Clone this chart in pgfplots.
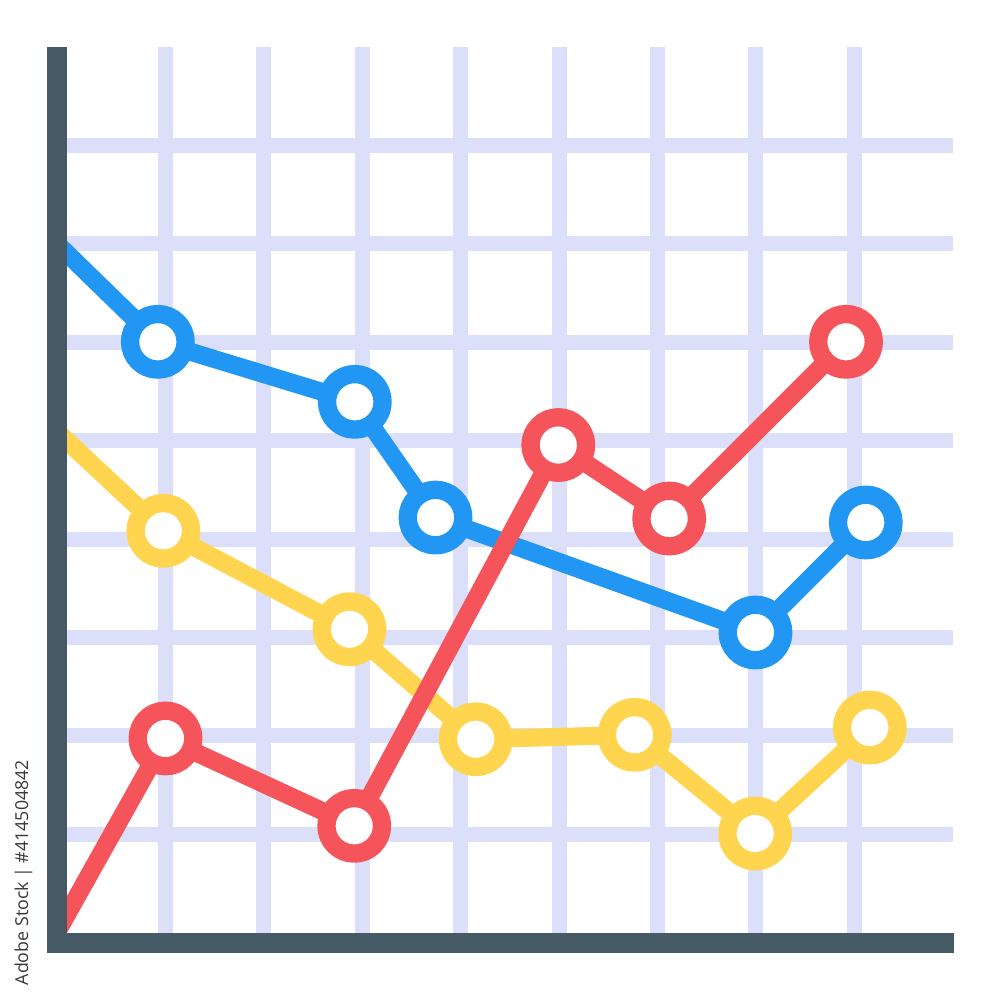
\documentclass[border=0pt]{standalone}
\usepackage{pgfplots}
\pgfplotsset{compat=1.18}
\usepackage{fontspec}
\setmainfont{Open Sans}

\definecolor{barc}{HTML}{455A64}
\definecolor{gridc}{HTML}{DBDFF9}
\definecolor{bluec}{HTML}{2196F3}
\definecolor{redc}{HTML}{F5545B}
\definecolor{yelc}{HTML}{FFD54F}

% 1 px of the reference = 0.5pt, 1 data unit = 98.4 px
\begin{document}
\begin{tikzpicture}
\begin{axis}[
  scale only axis,
  width=442.8pt, height=442.8pt,
  xmin=0, xmax=9, ymin=0, ymax=9,
  xtick={1,...,8}, ytick={1,...,8},
  xticklabels={}, yticklabels={},
  tick style={draw=none},
  axis line style={draw=none},
  grid=major,
  major grid style={line width=7.5pt, color=gridc},
  clip mode=individual,
  every axis plot/.append style={line width=9pt, line join=round},
]
% page frame (1000 x 1000 px)
\path (axis cs:-0.683,-0.685) rectangle (axis cs:9.480,9.478);

\addplot[yelc, mark=*, mark size=13.9pt,
  mark options={fill=white, draw=yelc, line width=9.15pt}]
  coordinates {(-0.3,5.276) (0.977,4.083) (2.869,3.083) (4.152,1.965)
               (5.767,2.010) (6.992,1.007) (8.157,2.084)};
\addplot[bluec, mark=*, mark size=13.9pt,
  mark options={fill=white, draw=bluec, line width=9.15pt}]
  coordinates {(-0.3,7.193) (0.921,6.004) (2.923,5.394) (3.743,4.218)
               (6.995,3.050) (8.116,4.168)};
\addplot[redc, mark=*, mark size=13.9pt,
  mark options={fill=white, draw=redc, line width=9.15pt}]
  coordinates {(-0.3,-0.348) (0.999,1.973) (2.917,1.085) (4.991,4.955)
               (6.118,4.208) (7.915,6.004)};

% axis bars
\fill[barc] (axis cs:-0.204,-0.204) rectangle (axis cs:0,9.0);
\fill[barc] (axis cs:-0.204,-0.204) rectangle (axis cs:9.01,0);

\node[rotate=90, text=black!78, font=\fontsize{8.9}{10}\selectfont]
  at (axis cs:-0.445,0.61) {Adobe Stock | \#414504842};
\end{axis}
\end{tikzpicture}
\end{document}
